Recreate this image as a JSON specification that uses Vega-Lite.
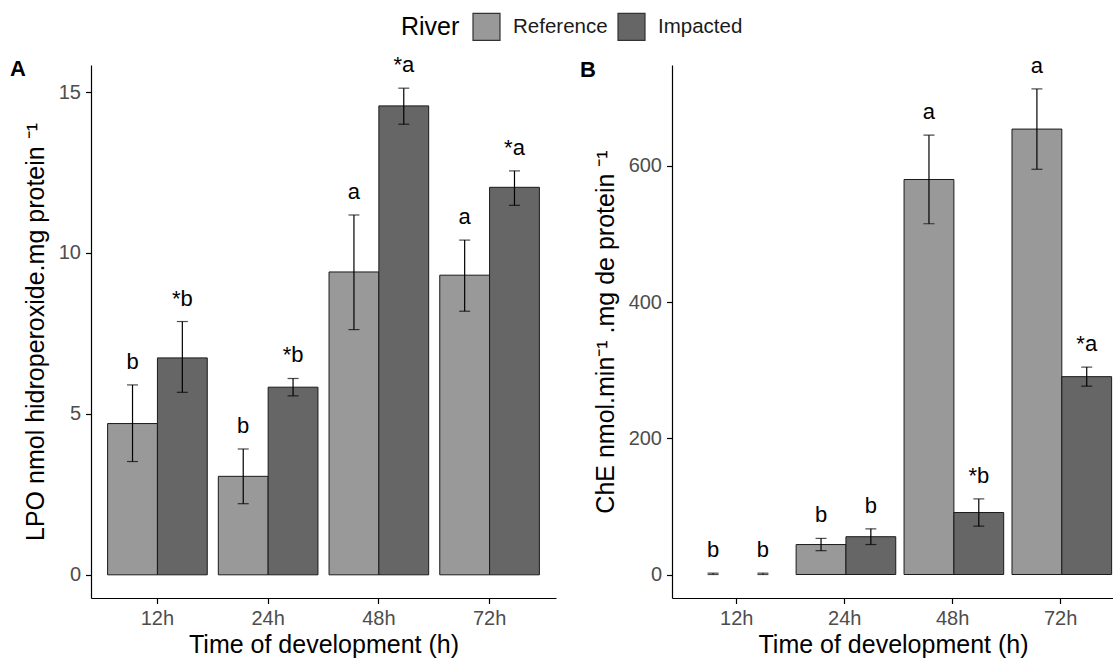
{
  "$schema": "https://vega.github.io/schema/vega-lite/v6.json",
  "padding": {"left": 10, "top": 12, "right": 0, "bottom": 0},
  "spacing": 24,
  "config": {
    "font": "Liberation Sans",
    "view": {"stroke": null},
    "axis": {
      "grid": false,
      "domainColor": "black",
      "domainWidth": 1.2,
      "tickColor": "black",
      "tickWidth": 1.2,
      "tickSize": 5.5,
      "labelColor": "#4d4d4d",
      "labelFontSize": 20,
      "labelPadding": 5,
      "titleColor": "black",
      "titleFontSize": 25,
      "titleFontWeight": "normal"
    },
    "axisX": {"titlePadding": 4},
    "axisY": {"titlePadding": 10}
  },
  "datasets": {
    "lpo": [
      {"time": "12h", "river": "Reference", "mean": 4.70, "lower": 3.52, "upper": 5.90, "label": "b"},
      {"time": "12h", "river": "Impacted", "mean": 6.74, "lower": 5.67, "upper": 7.87, "label": "*b"},
      {"time": "24h", "river": "Reference", "mean": 3.06, "lower": 2.21, "upper": 3.91, "label": "b"},
      {"time": "24h", "river": "Impacted", "mean": 5.83, "lower": 5.56, "upper": 6.10, "label": "*b"},
      {"time": "48h", "river": "Reference", "mean": 9.41, "lower": 7.62, "upper": 11.18, "label": "a"},
      {"time": "48h", "river": "Impacted", "mean": 14.57, "lower": 14.00, "upper": 15.12, "label": "*a"},
      {"time": "72h", "river": "Reference", "mean": 9.31, "lower": 8.19, "upper": 10.40, "label": "a"},
      {"time": "72h", "river": "Impacted", "mean": 12.04, "lower": 11.48, "upper": 12.55, "label": "*a"}
    ],
    "che": [
      {"time": "12h", "river": "Reference", "mean": null, "lower": 0, "upper": 2, "label": "b"},
      {"time": "12h", "river": "Impacted", "mean": null, "lower": 0, "upper": 2, "label": "b"},
      {"time": "24h", "river": "Reference", "mean": 44, "lower": 35, "upper": 53, "label": "b"},
      {"time": "24h", "river": "Impacted", "mean": 55.5, "lower": 44, "upper": 67, "label": "b"},
      {"time": "48h", "river": "Reference", "mean": 580, "lower": 515, "upper": 645, "label": "a"},
      {"time": "48h", "river": "Impacted", "mean": 91, "lower": 71, "upper": 111, "label": "*b"},
      {"time": "72h", "river": "Reference", "mean": 654, "lower": 595, "upper": 713, "label": "a"},
      {"time": "72h", "river": "Impacted", "mean": 290.5, "lower": 276.5, "upper": 304.5, "label": "*a"}
    ]
  },
  "resolve": {"scale": {"color": "shared"}},
  "hconcat": [
    {
      "width": 465,
      "height": 533,
      "data": {"name": "lpo"},
      "title": {"text": "A", "anchor": "start", "frame": "group", "fontSize": 22, "fontWeight": "bold", "color": "black", "offset": 0, "dx": -81, "dy": 44, "baseline": "alphabetic"},
      "encoding": {
        "x": {"field": "time", "type": "nominal", "sort": ["12h", "24h", "48h", "72h"], "scale": {"paddingInner": 0.1, "paddingOuter": 0.15}, "axis": {"title": "Time of development (h)", "labelAngle": 0}},
        "xOffset": {"field": "river", "type": "nominal", "sort": ["Reference", "Impacted"], "scale": {"paddingInner": 0, "paddingOuter": 0}}
      },
      "layer": [
        {
          "mark": {"type": "bar", "stroke": "#1a1a1a", "strokeWidth": 1},
          "encoding": {
            "y": {"field": "mean", "type": "quantitative", "title": "LPO nmol hidroperoxide.mg protein ⁻¹", "scale": {"domain": [-0.72, 15.84], "nice": false, "zero": false}, "axis": {"values": [0, 5, 10, 15]}},
            "color": {"field": "river", "type": "nominal", "scale": {"domain": ["Reference", "Impacted"], "range": ["#999999", "#666666"]},
              "legend": {"orient": "none", "legendX": 310, "legendY": -53, "direction": "horizontal", "title": "River", "titleOrient": "left", "titleFontSize": 25, "titleFontWeight": "normal", "titleColor": "black", "labelFontSize": 20.5, "labelColor": "#1a1a1a", "symbolType": "square", "symbolSize": 729, "symbolStrokeColor": "#333333", "symbolStrokeWidth": 1.2, "symbolOpacity": 1, "labelOffset": 12, "columnPadding": 7, "titlePadding": 12}}
          }
        },
        {
          "mark": {"type": "rule", "color": "black", "strokeWidth": 1.2},
          "encoding": {"y": {"field": "lower", "type": "quantitative", "title": "LPO nmol hidroperoxide.mg protein ⁻¹"}, "y2": {"field": "upper"}}
        },
        {
          "mark": {"type": "tick", "color": "black", "size": 11, "thickness": 1.2},
          "encoding": {"y": {"field": "lower", "type": "quantitative", "title": "LPO nmol hidroperoxide.mg protein ⁻¹"}}
        },
        {
          "mark": {"type": "tick", "color": "black", "size": 11, "thickness": 1.2},
          "encoding": {"y": {"field": "upper", "type": "quantitative", "title": "LPO nmol hidroperoxide.mg protein ⁻¹"}}
        },
        {
          "mark": {"type": "text", "dy": -23, "fontSize": 22, "baseline": "middle", "color": "black"},
          "encoding": {"y": {"field": "upper", "type": "quantitative", "title": "LPO nmol hidroperoxide.mg protein ⁻¹"}, "text": {"field": "label"}}
        }
      ]
    },
    {
      "width": 442,
      "height": 533,
      "data": {"name": "che"},
      "title": {"text": "B", "anchor": "start", "frame": "group", "fontSize": 22, "fontWeight": "bold", "color": "black", "offset": 0, "dx": -92, "dy": 44, "baseline": "alphabetic"},
      "encoding": {
        "x": {"field": "time", "type": "nominal", "sort": ["12h", "24h", "48h", "72h"], "scale": {"paddingInner": 0.1, "paddingOuter": 0.0975, "align": 0.769}, "axis": {"title": "Time of development (h)", "labelAngle": 0}},
        "xOffset": {"field": "river", "type": "nominal", "sort": ["Reference", "Impacted"], "scale": {"paddingInner": 0, "paddingOuter": 0}}
      },
      "layer": [
        {
          "mark": {"type": "bar", "stroke": "#1a1a1a", "strokeWidth": 1},
          "encoding": {
            "y": {"field": "mean", "type": "quantitative", "title": "ChE nmol.min⁻¹ .mg de protein ⁻¹", "scale": {"domain": [-34.5, 748.1], "nice": false, "zero": false}, "axis": {"values": [0, 200, 400, 600]}},
            "color": {"field": "river", "type": "nominal", "scale": {"domain": ["Reference", "Impacted"], "range": ["#999999", "#666666"]},
              "legend": {"orient": "none", "legendX": 310, "legendY": -53, "direction": "horizontal", "title": "River", "titleOrient": "left", "titleFontSize": 25, "titleFontWeight": "normal", "titleColor": "black", "labelFontSize": 20.5, "labelColor": "#1a1a1a", "symbolType": "square", "symbolSize": 729, "symbolStrokeColor": "#333333", "symbolStrokeWidth": 1.2, "symbolOpacity": 1, "labelOffset": 12, "columnPadding": 7, "titlePadding": 12}}
          }
        },
        {
          "mark": {"type": "rule", "color": "black", "strokeWidth": 1.2},
          "encoding": {"y": {"field": "lower", "type": "quantitative", "title": "ChE nmol.min⁻¹ .mg de protein ⁻¹"}, "y2": {"field": "upper"}}
        },
        {
          "mark": {"type": "tick", "color": "black", "size": 11, "thickness": 1.2},
          "encoding": {"y": {"field": "lower", "type": "quantitative", "title": "ChE nmol.min⁻¹ .mg de protein ⁻¹"}}
        },
        {
          "mark": {"type": "tick", "color": "black", "size": 11, "thickness": 1.2},
          "encoding": {"y": {"field": "upper", "type": "quantitative", "title": "ChE nmol.min⁻¹ .mg de protein ⁻¹"}}
        },
        {
          "mark": {"type": "text", "dy": -23, "fontSize": 22, "baseline": "middle", "color": "black"},
          "encoding": {"y": {"field": "upper", "type": "quantitative", "title": "ChE nmol.min⁻¹ .mg de protein ⁻¹"}, "text": {"field": "label"}}
        }
      ]
    }
  ]
}
